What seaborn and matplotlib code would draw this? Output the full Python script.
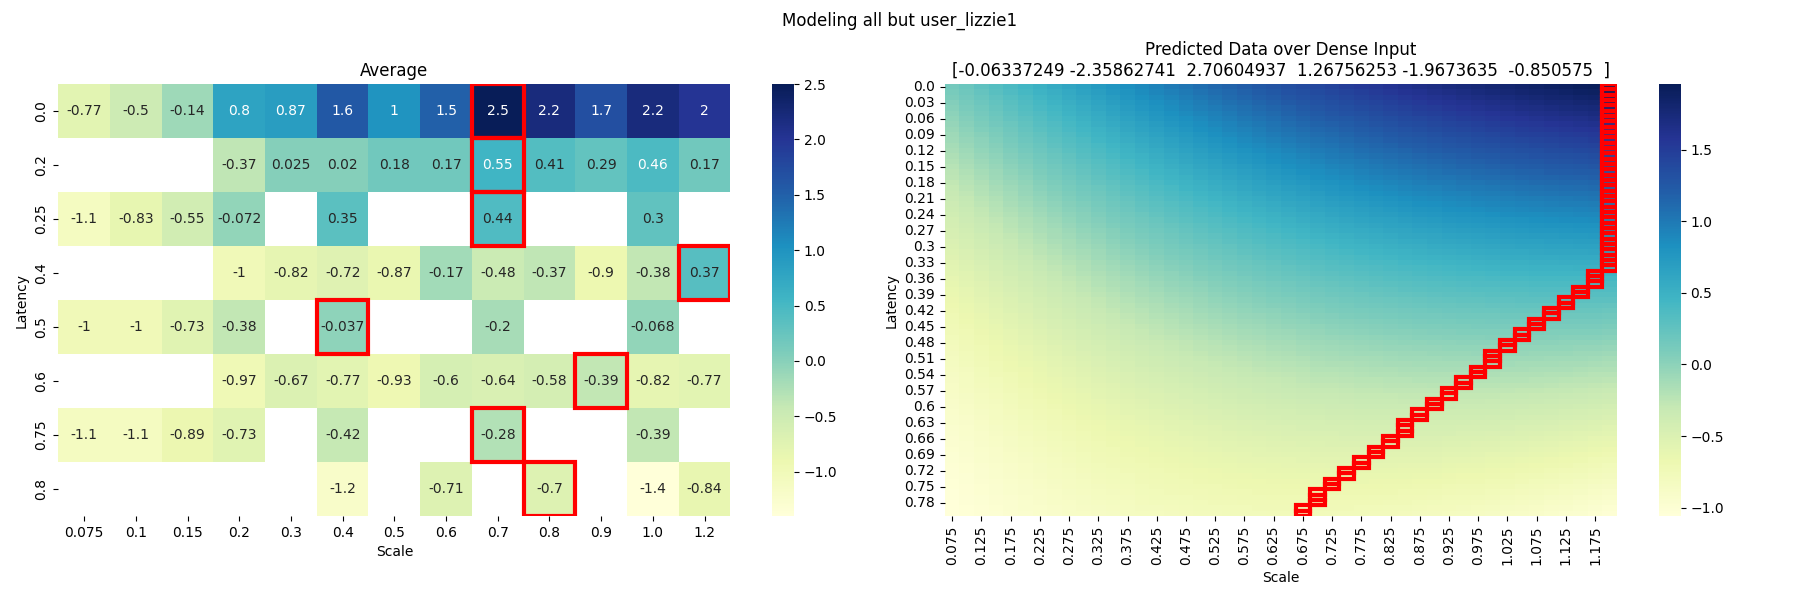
import numpy as np
import pandas as pd
import matplotlib
matplotlib.use("Agg")
import matplotlib.pyplot as plt
import seaborn as sns
from matplotlib.patches import Rectangle

# ---- averaged data (left panel) ----
avg_latency = [0.0, 0.2, 0.25, 0.4, 0.5, 0.6, 0.75, 0.8]
avg_scale = [0.075, 0.1, 0.15, 0.2, 0.3, 0.4, 0.5, 0.6, 0.7, 0.8, 0.9, 1.0, 1.2]
nan = np.nan
avg_values = [
    [-0.77, -0.5, -0.14, 0.8, 0.87, 1.6, 1.0, 1.5, 2.5, 2.2, 1.7, 2.2, 2.0],
    [nan, nan, nan, -0.37, 0.025, 0.02, 0.18, 0.17, 0.55, 0.41, 0.29, 0.46, 0.17],
    [-1.1, -0.83, -0.55, -0.072, nan, 0.35, nan, nan, 0.44, nan, nan, 0.3, nan],
    [nan, nan, nan, -1.0, -0.82, -0.72, -0.87, -0.17, -0.48, -0.37, -0.9, -0.38, 0.37],
    [-1.0, -1.0, -0.73, -0.38, nan, -0.037, nan, nan, -0.2, nan, nan, -0.068, nan],
    [nan, nan, nan, -0.97, -0.67, -0.77, -0.93, -0.6, -0.64, -0.58, -0.39, -0.82, -0.77],
    [-1.1, -1.1, -0.89, -0.73, nan, -0.42, nan, nan, -0.28, nan, nan, -0.39, nan],
    [nan, nan, nan, nan, nan, -1.2, nan, -0.71, nan, -0.7, nan, -1.4, -0.84],
]

# ---- fitted model (right panel), coefficients as printed in the title ----
coefs = [-0.06337249, -2.35862741, 2.70604937, 1.26756253, -1.9673635, -0.850575]
coef_text = "[-0.06337249 -2.35862741  2.70604937  1.26756253 -1.9673635  -0.850575  ]"
dense_latency = np.round(np.arange(0.0, 0.805, 0.01), 2)
dense_scale = np.round(np.arange(0.075, 1.2001, 0.025), 3)


def mark_row_max(ax, values):
    """Red box around the largest cell of every row."""
    for i, row in enumerate(np.asarray(values, dtype=float)):
        if np.all(np.isnan(row)):
            continue
        j = int(np.nanargmax(row))
        ax.add_patch(Rectangle((j, i), 1, 1, fill=False, edgecolor='red', lw=3))


avg_df = pd.DataFrame(avg_values, index=avg_latency, columns=avg_scale)

L, S = np.meshgrid(dense_latency, dense_scale, indexing='ij')
feats = [np.ones_like(L), L, S, L ** 2, L * S, S ** 2]
pred = sum(c * f for c, f in zip(coefs, feats))
pred_df = pd.DataFrame(pred, index=dense_latency, columns=dense_scale)

fig, axes = plt.subplots(1, 2, figsize=(18, 6))

sns.heatmap(avg_df, annot=True, cmap='YlGnBu', ax=axes[0])
mark_row_max(axes[0], avg_df.values)
axes[0].set_title('Average')
axes[0].set_xlabel('Scale')
axes[0].set_ylabel('Latency')

sns.heatmap(pred_df, cmap='YlGnBu', ax=axes[1], xticklabels=2, yticklabels=3)
mark_row_max(axes[1], pred_df.values)
axes[1].set_title('Predicted Data over Dense Input\n' + coef_text)
axes[1].set_xlabel('Scale')
axes[1].set_ylabel('Latency')

fig.suptitle('Modeling all but user_lizzie1')
plt.tight_layout()
fig.subplots_adjust(top=0.86)
plt.savefig('out.png', dpi=100)
plt.close()
